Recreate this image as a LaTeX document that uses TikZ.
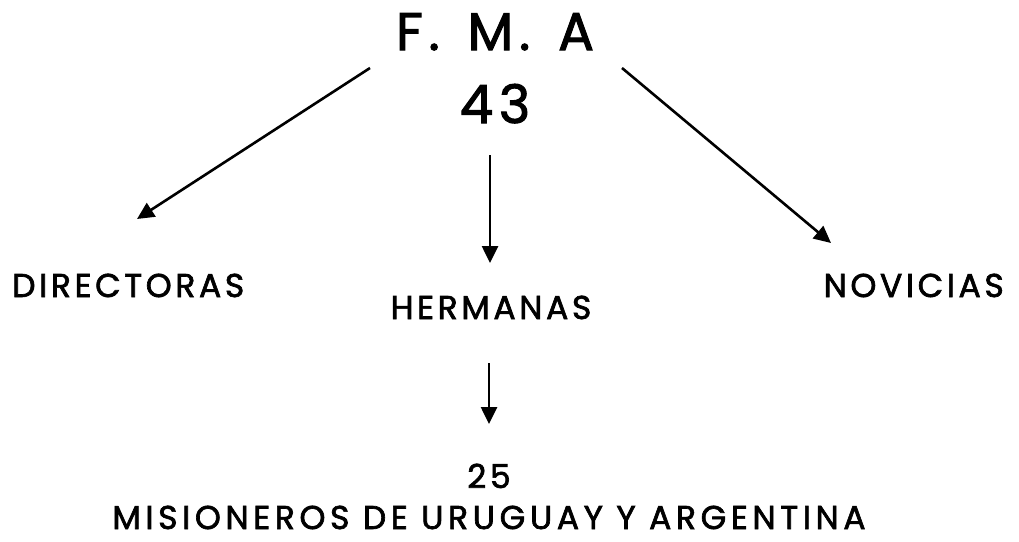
\documentclass[tikz,border=0pt]{standalone}
\usepackage{fontspec}
\setmainfont{Poppins}[LetterSpace=11,FakeBold=2]
\usetikzlibrary{arrows.meta}
\begin{document}
\begin{tikzpicture}[x=1pt,y=-1pt,
  big/.style={font=\fontsize{53}{56}\selectfont, inner sep=0pt, anchor=base},
  mid/.style={font=\fontsize{33}{38}\selectfont, inner sep=0pt, anchor=base},
  arr/.style={line width=2.6pt, -{Triangle[length=17pt,width=16pt]}}]
\useasboundingbox (0,0) rectangle (1019,541);
\node[big] (fma) at (495,50) {F.\hspace{8pt} M.\hspace{8pt} A};
\node[big] (n43) at (495,123) {43};
\node[mid, anchor=base west] (dir) at (12,297) {DIRECTORAS};
\node[mid] (her) at (491,319) {HERMANAS};
\node[mid, anchor=base east] (nov) at (1004,297) {NOVICIAS};
\node[mid] (n25) at (489,488) {25};
\node[mid] (mis) at (489,529) {\addfontfeatures{LetterSpace=14}MISIONEROS DE URUGUAY Y ARGENTINA};
\coordinate (a1s) at (370,68);  \coordinate (a1e) at (137,219);
\coordinate (a2s) at (490,155); \coordinate (a2e) at (490,263);
\coordinate (a3s) at (622,68);  \coordinate (a3e) at (831,243);
\coordinate (a4s) at (489,363); \coordinate (a4e) at (489,424);
\draw[arr] (a1s) -- (a1e);
\draw[arr] (a2s) -- (a2e);
\draw[arr] (a3s) -- (a3e);
\draw[arr] (a4s) -- (a4e);
\end{tikzpicture}
\end{document}
